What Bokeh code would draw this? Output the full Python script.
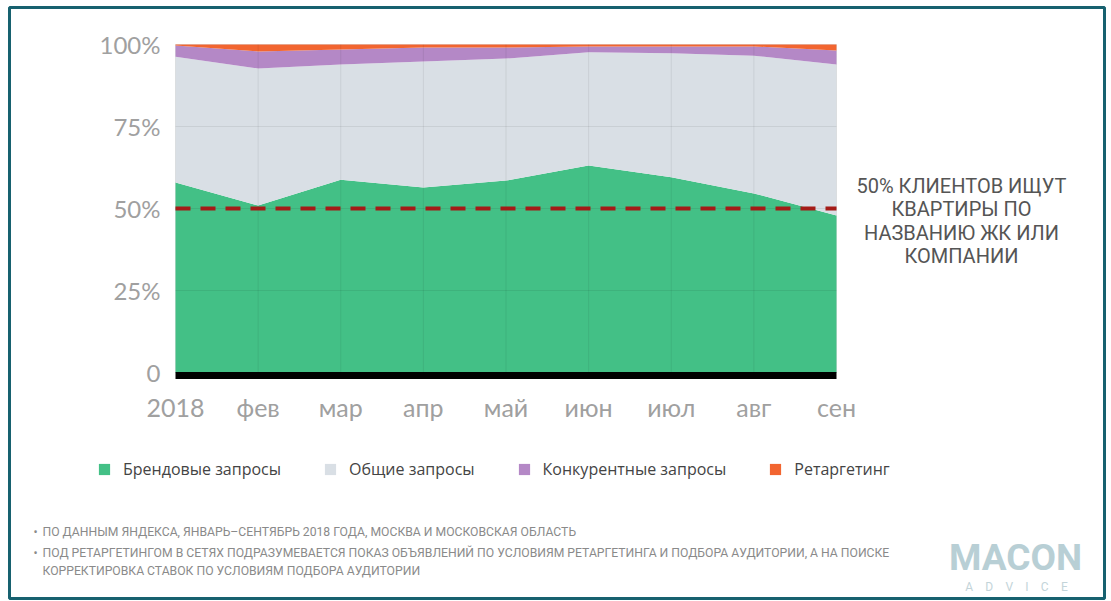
from bokeh.plotting import figure
from bokeh.models import (ColumnDataSource, Range1d, FixedTicker, Label,
                          BoxAnnotation, LinearAxis)
from bokeh.embed import file_html
from bokeh.resources import INLINE

# ---- data (shares of searches, %) ----
months = ["2018", "фев", "мар", "апр", "май", "июн", "июл", "авг", "сен"]
brand = [57.9, 50.9, 58.8, 56.4, 58.5, 63.1, 59.5, 54.6, 47.9]
general = [38.4, 41.8, 35.1, 38.4, 37.2, 34.5, 37.8, 42.0, 46.0]
competitor = [3.4, 5.2, 4.6, 4.3, 3.4, 1.8, 2.1, 2.8, 4.3]
retarget = [0.3, 2.1, 1.5, 0.9, 0.9, 0.6, 0.6, 0.6, 1.8]
series_names = ["Брендовые запросы", "Общие запросы", "Конкурентные запросы", "Ретаргетинг"]
y_ticks = [0, 25, 50, 75, 100]
y_tick_labels = ["0", "25%", "50%", "75%", "100%"]
threshold = 50

colors = ["#43c086", "#d9dfe5", "#b488c6", "#f26530"]

x = list(range(len(months)))
n = len(months) - 1
source = ColumnDataSource(dict(x=x, brand=brand, general=general,
                               competitor=competitor, retarget=retarget))

W, H = 1111, 601
# where the data area sits on the canvas (px)
FL, FR, FT, FB = 175, 836, 44, 372
sx = (FR - FL) / n
sy = (FB - FT) / 100.0

p = figure(width=W, height=H, output_backend="svg", toolbar_location=None,
           x_range=Range1d(-FL / sx, n + (W - FR) / sx),
           y_range=Range1d(-(H - FB) / sy, 100 + FT / sy),
           min_border=0, x_axis_type=None, y_axis_type=None)
p.outline_line_color = None
p.background_fill_color = "white"
p.border_fill_color = "white"
p.xgrid.visible = False
p.ygrid.visible = False

p.varea_stack(stackers=["brand", "general", "competitor", "retarget"], x="x",
              color=colors, legend_label=series_names, source=source)

# faint grid lines over the areas
p.segment(x0=x, y0=[0] * len(x), x1=x, y1=[100] * len(x),
          line_color="#000000", line_alpha=0.07, line_width=1)
p.segment(x0=[0] * len(y_ticks), y0=y_ticks, x1=[n] * len(y_ticks), y1=y_ticks,
          line_color="#000000", line_alpha=0.07, line_width=1)

# 50% dashed line
p.segment(x0=[0], y0=[threshold], x1=[n], y1=[threshold], line_color="#a41b17",
          line_width=4, line_dash="15 10")

# axes fixed at the data origin
xaxis = LinearAxis(fixed_location=-1.05, bounds=(0, n))
xaxis.ticker = FixedTicker(ticks=x)
xaxis.major_label_overrides = {i: m for i, m in enumerate(months)}
xaxis.major_label_text_font_size = "25px"
xaxis.major_label_text_color = "#a0a0a0"
xaxis.major_label_text_font = "Lato"
xaxis.major_label_standoff = 10
xaxis.axis_line_color = "black"
xaxis.axis_line_width = 7
xaxis.major_tick_line_color = None
xaxis.minor_tick_line_color = None
p.add_layout(xaxis, "below")

yaxis = LinearAxis(fixed_location=0, bounds=(0, 100))
yaxis.ticker = FixedTicker(ticks=y_ticks)
yaxis.major_label_overrides = {t: l for t, l in zip(y_ticks, y_tick_labels)}
yaxis.major_label_text_font_size = "24px"
yaxis.major_label_text_color = "#a0a0a0"
yaxis.major_label_text_font = "Lato"
yaxis.major_label_standoff = 9
yaxis.axis_line_color = None
yaxis.major_tick_line_color = None
yaxis.minor_tick_line_color = None
p.add_layout(yaxis, "left")

# legend
lg = p.legend[0]
lg.orientation = "horizontal"
lg.location = (97, H - 480)
lg.padding = 0
lg.margin = 0
lg.spacing = 42
lg.glyph_width = 14
lg.glyph_height = 14
lg.label_standoff = 12
lg.label_text_font_size = "16px"
lg.label_text_font = "Open Sans"
lg.label_text_color = "#444444"
lg.border_line_color = None
lg.background_fill_alpha = 0


def add_label(text, cx, cy, size, color, font_name="Roboto", align="left",
              style="normal"):
    p.add_layout(Label(x=cx, y=H - cy, x_units="screen", y_units="screen",
                       text=text, text_font_size=size, text_color=color,
                       text_font=font_name, text_align=align,
                       text_baseline="middle", text_font_style=style))


# annotation
for i, line in enumerate(["50% КЛИЕНТОВ ИЩУТ", "КВАРТИРЫ ПО",
                          "НАЗВАНИЮ ЖК ИЛИ", "КОМПАНИИ"]):
    add_label(line, 961, 185 + i * 23.5, "20px", "#555555", align="center")

# footnotes
notes = [("•", 33, 531), ("ПО ДАННЫМ ЯНДЕКСА, ЯНВАРЬ–СЕНТЯБРЬ 2018 ГОДА, МОСКВА И МОСКОВСКАЯ ОБЛАСТЬ", 42, 531),
         ("•", 33, 552),
         ("ПОД РЕТАРГЕТИНГОМ В СЕТЯХ ПОДРАЗУМЕВАЕТСЯ ПОКАЗ ОБЪЯВЛЕНИЙ ПО УСЛОВИЯМ РЕТАРГЕТИНГА И ПОДБОРА АУДИТОРИИ, А НА ПОИСКЕ", 42, 552),
         ("КОРРЕКТИРОВКА СТАВОК ПО УСЛОВИЯМ ПОДБОРА АУДИТОРИИ", 42, 570)]
for t, cx, cy in notes:
    add_label(t, cx, cy, "12.2px", "#8a8a8a")

# logo
add_label("MACON", 1015, 557, "37px", "#b8cfd5", font_name="Roboto",
          align="center", style="bold")
add_label("\u2003".join("ADVICE"), 1016, 586, "12px", "#c3d4d9", align="center")

# outer frame
p.add_layout(BoxAnnotation(left=9, right=1104, top=H - 7, bottom=H - 598,
                           left_units="screen", right_units="screen",
                           top_units="screen", bottom_units="screen",
                           fill_alpha=0, line_color="#17616f", line_alpha=1,
                           line_width=3))

open("out.html", "w").write(file_html(p, INLINE))
